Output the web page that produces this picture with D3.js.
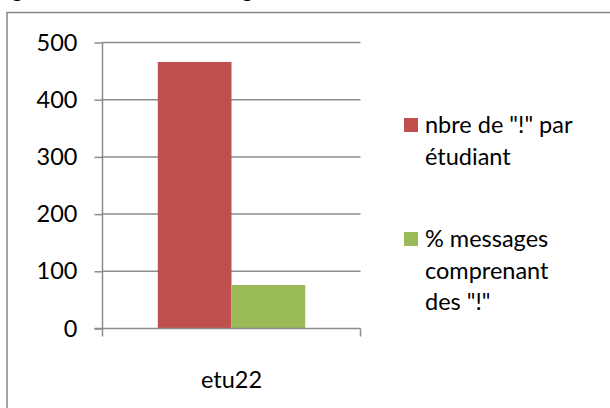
<!DOCTYPE html>
<html>
<head>
<meta charset="utf-8">
<script src="https://cdn.jsdelivr.net/npm/d3@7"></script>
<style>
  html, body { margin: 0; padding: 0; background: #fff; }
  svg { display: block; }
  text { font-family: Lato, "Noto Sans", sans-serif; fill: #000; }
</style>
</head>
<body>
<div id="graph"></div>
<script>
// chart data
const categories = ["etu22"];
const seriesNames = ['nbre de "!" par étudiant', '% messages comprenant des "!"'];
const seriesColors = ["#C0504D", "#9BBB59"];
const nbreExclamation = [466];
const pctMessages = [76];
const yTicks = [0, 100, 200, 300, 400, 500];
// legend labels as Excel wraps them
const legendLines = [['nbre de "!" par', "étudiant"], ["% messages", "comprenant", 'des "!"']];

function drawChart() {
    const width = 610;
    const height = 408;
    const margin = {top: 42.5, right: 249.5, bottom: 79.5, left: 102.5};
    const fontSize = 23.5;

    const svg = d3.select("#graph").append("svg")
        .attr("width", width)
        .attr("height", height)
        .attr("viewBox", [0, 0, width, height]);

    // chart frame (runs off the page on right and bottom)
    svg.append("rect")
        .attr("x", 7)
        .attr("y", 12.5)
        .attr("width", 700)
        .attr("height", 500)
        .attr("fill", "none")
        .attr("stroke", "#868686")
        .attr("stroke-width", 1.5);

    // descenders of the caption line cut off above
    svg.append("g")
        .selectAll("text")
        .data([12, 242])
        .join("text")
            .attr("x", d => d)
            .attr("y", -2)
            .attr("font-size", 20)
            .text("g");

    const xScale = d3.scaleBand()
        .domain(categories)
        .range([margin.left, width - margin.right]);

    const yScale = d3.scaleLinear()
        .domain([0, 500])
        .range([height - margin.bottom, margin.top]);

    // bars inside each category: gap width 150%
    const xSub = d3.scaleBand()
        .domain(d3.range(seriesNames.length))
        .range([0, xScale.bandwidth()])
        .paddingOuter(0.75)
        .paddingInner(0);

    // gridlines
    svg.append("g")
        .selectAll("line")
        .data(yTicks.filter(d => d > 0))
        .join("line")
            .attr("x1", margin.left)
            .attr("x2", width - margin.right)
            .attr("y1", d => yScale(d))
            .attr("y2", d => yScale(d))
            .attr("stroke", "#8c8c8c")
            .attr("stroke-width", 1.5);

    const series = [nbreExclamation, pctMessages];
    series.forEach((values, s) => {
        svg.append("g")
            .attr("fill", seriesColors[s])
            .selectAll("rect")
            .data(values)
            .join("rect")
                .attr("x", (d, i) => xScale(categories[i]) + xSub(s))
                .attr("y", d => yScale(d))
                .attr("width", xSub.bandwidth())
                .attr("height", d => yScale(0) - yScale(d));
    });

    // y axis
    const yAxis = d3.axisLeft(yScale)
        .tickValues(yTicks)
        .tickSize(8)
        .tickPadding(17)
        .tickFormat(d3.format("d"));

    svg.append("g")
        .attr("transform", `translate(${margin.left},0)`)
        .call(yAxis)
        .call(g => g.selectAll("line, path").attr("stroke", "#8c8c8c").attr("stroke-width", 1.5))
        .call(g => g.select(".domain").attr("d", `M0,${yScale(500)}V${yScale(0)}`))
        .call(g => g.selectAll("text").attr("font-size", fontSize).attr("font-family", null));

    // x axis
    const xAxis = d3.axisBottom(xScale).tickSize(0).tickPadding(43);

    svg.append("g")
        .attr("transform", `translate(0,${yScale(0)})`)
        .call(xAxis)
        .call(g => g.select(".domain").attr("d", `M${margin.left - 8},0H${width - margin.right}`)
            .attr("stroke", "#8c8c8c").attr("stroke-width", 1.5))
        .call(g => g.selectAll("text").attr("font-size", fontSize).attr("font-family", null));

    // category boundary ticks
    svg.append("g")
        .selectAll("line")
        .data([xScale.range()[0], xScale.range()[1]])
        .join("line")
            .attr("x1", d => d)
            .attr("x2", d => d)
            .attr("y1", yScale(0))
            .attr("y2", yScale(0) + 8)
            .attr("stroke", "#8c8c8c")
            .attr("stroke-width", 1.5);

    // legend
    const legendTop = [118, 232];
    const legend = svg.append("g");
    seriesNames.forEach((name, s) => {
        const item = legend.append("g").attr("transform", `translate(404,${legendTop[s]})`);
        item.append("rect")
            .attr("width", 14)
            .attr("height", 14)
            .attr("fill", seriesColors[s]);
        item.append("text")
            .attr("font-size", fontSize)
            .selectAll("tspan")
            .data(legendLines[s])
            .join("tspan")
                .attr("x", 21)
                .attr("y", (d, i) => 15 + i * 31.5)
                .text(d => d);
    });
}

drawChart();
</script>
</body>
</html>
